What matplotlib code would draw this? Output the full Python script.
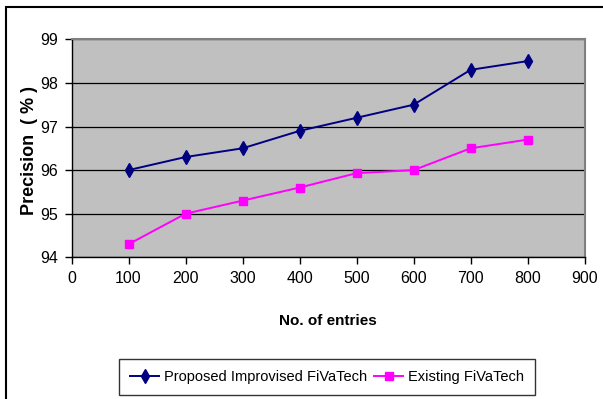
# precision_chart.py
# Precision vs number of entries: proposed vs existing FiVaTech

import matplotlib
matplotlib.use("Agg")
import matplotlib.pyplot as plt
from matplotlib.patches import Rectangle

entries = [100, 200, 300, 400, 500, 600, 700, 800]
proposed = [96.0, 96.3, 96.5, 96.9, 97.2, 97.5, 98.3, 98.5]
existing = [94.3, 95.0, 95.3, 95.6, 95.93, 96.0, 96.5, 96.7]
x_ticks = [0, 100, 200, 300, 400, 500, 600, 700, 800, 900]
y_ticks = [94, 95, 96, 97, 98, 99]

plt.rcParams["font.family"] = ["Liberation Sans", "DejaVu Sans"]

fig = plt.figure(figsize=(6.03, 3.99), dpi=100)
ax = fig.add_axes([0.1186, 0.3551, 0.851, 0.5464])
ax.set_facecolor("#C0C0C0")

ax.plot(entries, proposed, color="#000080", lw=1.4, marker="d", ms=7,
        label="Proposed Improvised FiVaTech", zorder=3)
ax.plot(entries, existing, color="#FF00FF", lw=1.4, marker="s", ms=6,
        label="Existing FiVaTech", zorder=3)

ax.set_xlim(0, 900)
ax.set_ylim(94, 99)
ax.set_xticks(x_ticks)
ax.set_yticks(y_ticks)
ax.yaxis.grid(True, color="black", lw=0.9)
ax.set_axisbelow(True)
ax.tick_params(direction="out", length=5, width=1, labelsize=11.5, pad=5)

for side in ("top", "right"):
    ax.spines[side].set_color("#808080")
    ax.spines[side].set_linewidth(1.5)
for side in ("left", "bottom"):
    ax.spines[side].set_color("black")
    ax.spines[side].set_linewidth(1)

ax.set_xlabel("No. of entries", fontsize=11, fontweight="bold", labelpad=20)
ax.set_ylabel("Precision  ( % )", fontsize=13, fontweight="bold")
ax.yaxis.set_label_coords(-0.066, 0.49)

leg = ax.legend(loc="center", bbox_to_anchor=(0.542, 0.0545),
                bbox_transform=fig.transFigure, ncol=2, frameon=True,
                fancybox=False, edgecolor="black", fontsize=10.5,
                handlelength=2.0, columnspacing=0.5, handletextpad=0.3,
                borderpad=0.75)
leg.get_frame().set_linewidth(1)

# outer chart frame
fig.patches.append(Rectangle((0.01, -0.1), 1.2, 1.082, transform=fig.transFigure,
                             fill=False, edgecolor="black", lw=1.5))

fig.savefig("out.png", dpi=100)
